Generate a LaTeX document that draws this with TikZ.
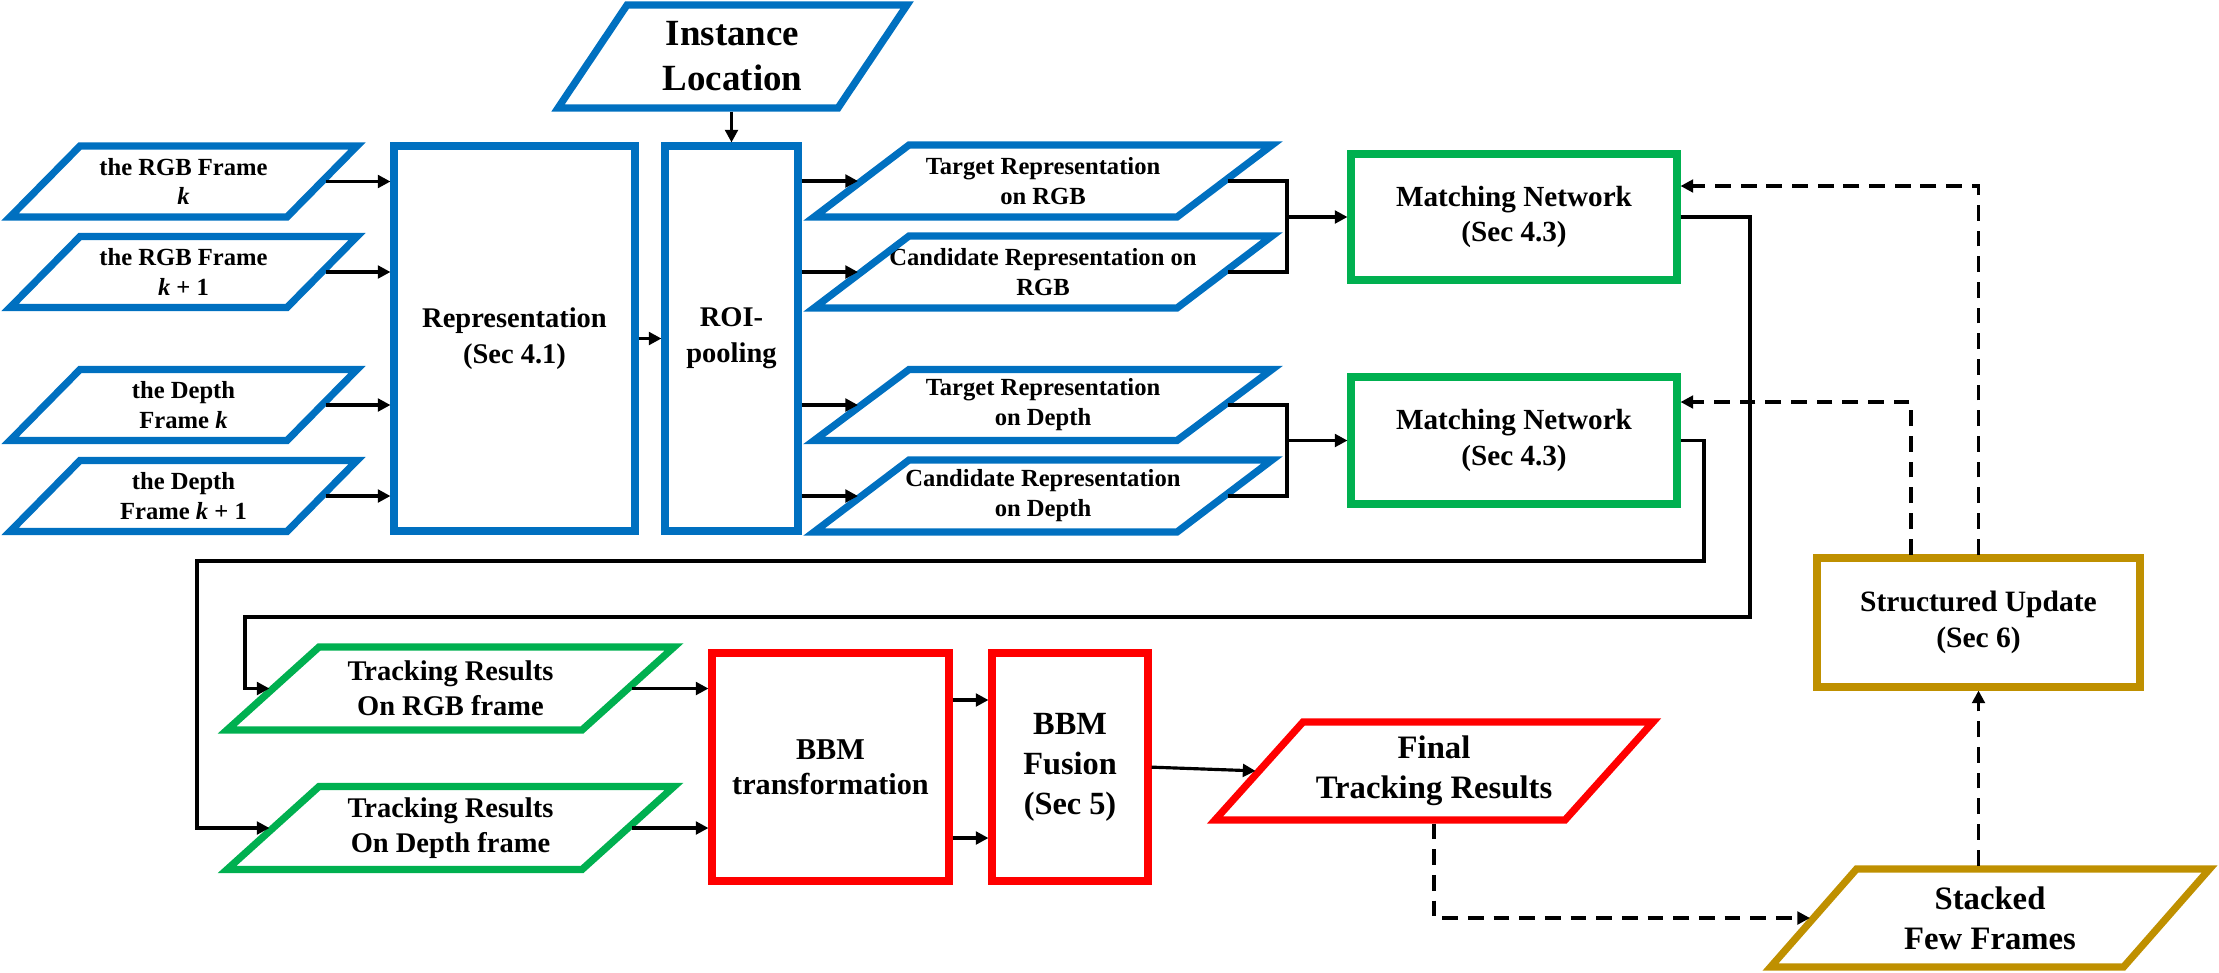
\documentclass[tikz,border=0pt]{standalone}
\usepackage{fontspec}
\setmainfont{Liberation Serif}
\usetikzlibrary{calc,arrows.meta}
\definecolor{cblue}{RGB}{0,112,192}
\definecolor{cgreen}{RGB}{0,176,80}
\definecolor{cred}{RGB}{255,0,0}
\definecolor{cgold}{RGB}{191,144,0}
\newcommand\fnt[2]{\fontsize{#1}{#2}\selectfont\bfseries}
\tikzset{
  ptext/.style={inner sep=0pt,outer sep=0pt,align=center,text=black},
  shapeline/.style={line width=2.05pt,line join=miter},
  box/.style={draw=#1,line width=2.05pt,inner sep=0pt,outer sep=0pt,align=center,text=black},
  conn/.style={line width=0.9pt,black},
  arr/.style={conn,shorten >=1pt,-{Triangle[length=3.6pt,width=3.6pt]}},
  darr/.style={arr,dash pattern=on 4.5pt off 2.8pt},
  fsmall/.style={font=\fnt{7}{8.5}},
  fmid/.style={font=\fnt{8.1}{10.2}},
  fmn/.style={font=\fnt{8.3}{10}},
  ftr/.style={font=\fnt{8.1}{10}},
  fbbt/.style={font=\fnt{8.6}{10}},
  ffus/.style={font=\fnt{9.2}{11.4}},
  fbig/.style={font=\fnt{9.3}{11.4}},
  fsu/.style={font=\fnt{8.4}{10.2}},
  finst/.style={font=\fnt{10.5}{12.8}},
}
% #1 name, #2 cx, #3 cy, #4 w, #5 h, #6 slant, #7 colour, #8 font style, #9 text
\newcommand\pgram[9]{%
  \node[ptext,#8,minimum width=#4*0.01cm,minimum height=#5*0.01cm] (#1) at (#2,#3) {#9};
  \draw[shapeline,#7] ($(#1.north west)+(#6/2,0)$) -- ($(#1.north east)+(#6/2,0)$)
     -- ($(#1.south east)-(#6/2,0)$) -- ($(#1.south west)-(#6/2,0)$) -- cycle;}
\begin{document}
\begin{tikzpicture}[x=0.01cm,y=-0.01cm]
\useasboundingbox (0,0) rectangle (2219,972);

% inputs
\pgram{in1}{183.5}{181.5}{277}{71}{70}{cblue}{fsmall}{the RGB Frame\\\textit{k}}
\pgram{in2}{183.5}{272}{277}{71}{70}{cblue}{fsmall}{the RGB Frame\\\textit{k} + 1}
\pgram{in3}{183.5}{405}{277}{71}{70}{cblue}{fsmall}{the Depth\\Frame \textit{k}}
\pgram{in4}{183.5}{496}{277}{71}{70}{cblue}{fsmall}{the Depth\\Frame \textit{k} + 1}
\pgram{inst}{732.5}{56.5}{280}{103}{69}{cblue}{finst}{Instance\\Location}

% representation blocks
\node[box=cblue,fmid,minimum width=241*0.01cm,minimum height=385*0.01cm] (rep) at (514.5,338.5) {Representation\\(Sec 4.1)};
\node[box=cblue,fmid,minimum width=133*0.01cm,minimum height=385*0.01cm] (roi) at (731.5,338.5) {ROI-\\pooling};

% middle parallelograms
\pgram{t1}{1043}{181}{363}{72}{95}{cblue}{fsmall}{Target Representation\\on RGB}
\pgram{c1}{1043}{272}{363}{72}{95}{cblue}{fsmall}{Candidate Representation on\\RGB}
\pgram{t2}{1043}{405}{363}{71}{95}{cblue}{fsmall}{Target Representation\\on Depth}
\pgram{c2}{1043}{496}{363}{72}{95}{cblue}{fsmall}{Candidate Representation\\on Depth}

% matching networks
\node[box=cgreen,fmn,minimum width=326*0.01cm,minimum height=126*0.01cm] (mn1) at (1514,217) {Matching Network\\(Sec 4.3)};
\node[box=cgreen,fmn,minimum width=326*0.01cm,minimum height=127*0.01cm] (mn2) at (1514,440.5) {Matching Network\\(Sec 4.3)};

% tracking results
\pgram{tr1}{450.5}{688.5}{355}{83}{92}{cgreen}{ftr}{Tracking Results\\On RGB frame}
\pgram{tr2}{450.5}{828}{355}{83}{92}{cgreen}{ftr}{Tracking Results\\On Depth frame}

% BBM
\node[box=cred,fbbt,minimum width=237*0.01cm,minimum height=228*0.01cm] (bbt) at (830.5,767) {BBM\\transformation};
\node[box=cred,ffus,minimum width=156*0.01cm,minimum height=228*0.01cm] (bbf) at (1070,767) {BBM\\Fusion\\(Sec 5)};

\pgram{fin}{1434}{771}{350}{98}{88}{cred}{fbig}{Final\\Tracking Results}
\pgram{stk}{1990}{918}{353}{98}{86}{cgold}{fbig}{Stacked\\Few Frames}
\node[box=cgold,fsu,minimum width=323*0.01cm,minimum height=129*0.01cm] (su) at (1978.5,622.5) {Structured Update\\(Sec 6)};

% connectors
\foreach \i in {in1,in2,in3,in4}
  \draw[arr,shorten <=1pt] (\i.east) -- (\i.east -| rep.west);
\draw[arr,shorten <=1pt] (rep.east) -- (rep.east -| roi.west);
\draw[arr,shorten <=1pt] (inst.south -| roi.north) -- (roi.north);
\foreach \i in {t1,c1,t2,c2}
  \draw[arr,shorten <=1pt] (\i.west -| roi.east) -- (\i.west);

\coordinate (j1) at (1287,217);
\coordinate (j2) at (1287,440.5);
\draw[conn,shorten <=1pt,shorten >=1pt] (t1.east) -| (j1) |- (c1.east);
\draw[conn,shorten <=1pt,shorten >=1pt] (t2.east) -| (j2) |- (c2.east);
\draw[arr] (j1) -- (mn1.west);
\draw[arr] (j2) -- (mn2.west);

\coordinate (r1) at (1750,617);
\coordinate (l1) at (245,617);
\coordinate (r2) at (1704,561);
\coordinate (l2) at (197,561);
\draw[arr,shorten <=1pt] (mn1.east) -| (r1) -- (l1) |- (tr1.west);
\draw[arr,shorten <=1pt] (mn2.east) -| (r2) -- (l2) |- (tr2.west);

\draw[arr,shorten <=1pt] (tr1.east) -- (tr1.east -| bbt.west);
\draw[arr,shorten <=1pt] (tr2.east) -- (tr2.east -| bbt.west);
\draw[arr,shorten <=1pt] ($(bbt.east)+(0,-67)$) -- ($(bbf.west)+(0,-67)$);
\draw[arr,shorten <=1pt] ($(bbt.east)+(0,71)$) -- ($(bbf.west)+(0,71)$);
\draw[arr,shorten <=1pt] (bbf.east) -- (fin.west);

\draw[darr,shorten <=1pt] (fin.south) |- (stk.west);
\draw[darr,shorten <=1pt] (stk.north -| su.south) -- (su.south);
\draw[darr,shorten <=1pt] (su.north) |- ($(mn1.east)+(0,-31)$);
\draw[darr,shorten <=1pt] ($(su.north)+(-67.5,0)$) |- ($(mn2.east)+(0,-38.5)$);
\end{tikzpicture}
\end{document}
